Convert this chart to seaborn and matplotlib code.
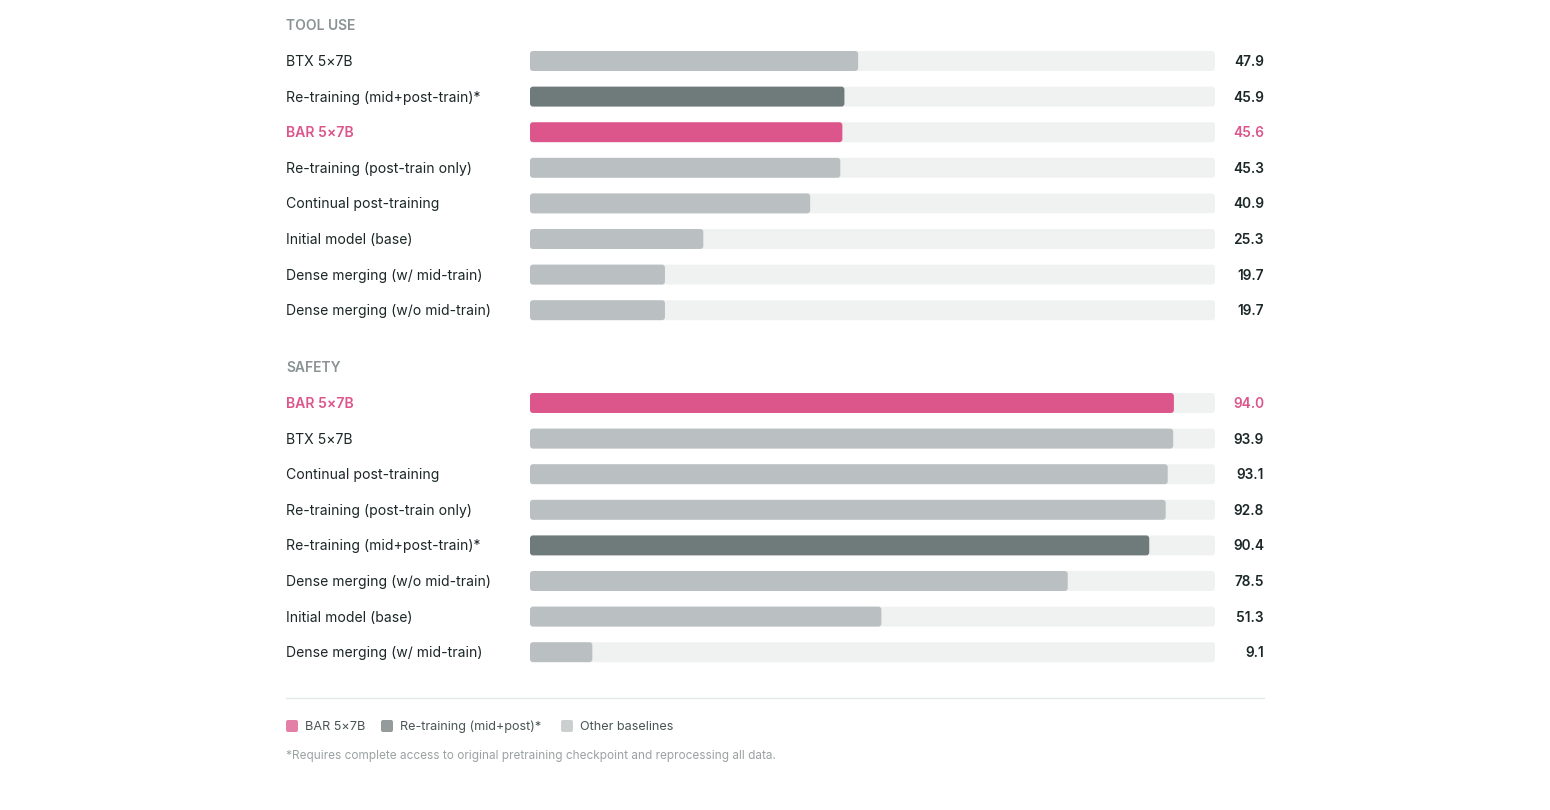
import numpy as np
import pandas as pd
import matplotlib
matplotlib.use("Agg")
import matplotlib.pyplot as plt
from matplotlib.patches import FancyBboxPatch
import seaborn as sns

# data
tool_labels = ["BTX 5×7B", "Re-training (mid+post-train)*", "BAR 5×7B",
               "Re-training (post-train only)", "Continual post-training",
               "Initial model (base)", "Dense merging (w/ mid-train)",
               "Dense merging (w/o mid-train)"]
tool_values = [47.9, 45.9, 45.6, 45.3, 40.9, 25.3, 19.7, 19.7]

safety_labels = ["BAR 5×7B", "BTX 5×7B", "Continual post-training",
                 "Re-training (post-train only)", "Re-training (mid+post-train)*",
                 "Dense merging (w/o mid-train)", "Initial model (base)",
                 "Dense merging (w/ mid-train)"]
safety_values = [94.0, 93.9, 93.1, 92.8, 90.4, 78.5, 51.3, 9.1]

legend_labels = ["BAR 5×7B", "Re-training (mid+post)*", "Other baselines"]
footnote = "*Requires complete access to original pretraining checkpoint and reprocessing all data."

PINK = "#dc558b"
DARK = "#6f7a7a"
LIGHT = "#bac0c1"
TRACK = "#f0f2f1"
TEXT = "#1c2727"
HEAD = "#8a9393"

sns.set_theme(style="white")
plt.rcParams["font.family"] = ["Inter", "DejaVu Sans"]

W, H = 1550, 810
ROW = 35.6
fig = plt.figure(figsize=(W / 100, H / 100), dpi=100)


def colour_for(label):
    if label.startswith("BAR"):
        return PINK
    if label.startswith("Re-training (mid"):
        return DARK
    return LIGHT


def round_bars(ax):
    # swap the square bars for rounded ones (about 3px radius)
    xpp = 100 / 685
    ypp = 1 / ROW
    for p in list(ax.patches):
        x, y = p.get_x(), p.get_y()
        w, h = p.get_width(), p.get_height()
        if w <= 0:
            continue
        fb = FancyBboxPatch((x, y), w, h,
                            boxstyle=f"round,pad=0,rounding_size={3 * xpp}",
                            mutation_aspect=ypp / xpp,
                            facecolor=p.get_facecolor(), edgecolor="none",
                            zorder=p.get_zorder())
        p.remove()
        ax.add_patch(fb)


def section(top_px, title, labels, values):
    n = len(labels)
    y0 = top_px - ROW / 2
    ax = fig.add_axes([530 / W, 1 - (y0 + n * ROW) / H, 685 / W, n * ROW / H])
    df = pd.DataFrame({"label": labels, "value": values, "track": [100] * n})
    sns.barplot(data=df, x="track", y="label", color=TRACK, width=0.56,
                ax=ax, saturation=1, linewidth=0)
    pal = {l: colour_for(l) for l in labels}
    sns.barplot(data=df, x="value", y="label", hue="label", palette=pal,
                width=0.56, ax=ax, saturation=1, legend=False, linewidth=0)
    round_bars(ax)
    ax.set_xlim(0, 100)
    ax.set_ylim(n - 0.5, -0.5)
    ax.axis("off")
    for i, (l, v) in enumerate(zip(labels, values)):
        hl = l.startswith("BAR")
        ax.text(-0.356, i + 0.03, l, transform=ax.get_yaxis_transform(),
                ha="left", va="center", fontsize=10.1,
                color=PINK if hl else TEXT,
                fontweight="semibold" if hl else "normal")
        ax.text(1.0715, i + 0.03, f"{v:.1f}", transform=ax.get_yaxis_transform(),
                ha="right", va="center", fontsize=9.8,
                color=PINK if hl else TEXT, fontweight="semibold")
    fig.text(286 / W, 1 - (top_px - 34.5) / H, title, ha="left", va="center",
             fontsize=10, color=HEAD, fontweight="semibold")
    return ax


section(61, "TOOL USE", tool_labels, tool_values)
section(403, "SAFETY", safety_labels, safety_values)

# separator
fig.add_artist(plt.Line2D([286 / W, 1264 / W], [1 - 698 / H] * 2,
                          color="#e4e7e7", lw=1))

# legend
sw_x = [286, 381, 561]
sw_c = [PINK, DARK, LIGHT]
for x, c, l in zip(sw_x, sw_c, legend_labels):
    fig.patches.append(FancyBboxPatch((x / W, 1 - 732 / H), 12 / W, 12 / H,
                                      boxstyle=f"round,pad=0,rounding_size={2 / W}",
                                      mutation_aspect=W / H,
                                      transform=fig.transFigure, facecolor=c,
                                      edgecolor="none", alpha=0.75))
    fig.text((x + 19) / W, 1 - 726.5 / H, l, ha="left", va="center",
             fontsize=9.1, color="#4a5555")

fig.text(286 / W, 1 - 756.5 / H, footnote, ha="left", va="center",
         fontsize=8.5, color="#9aa2a2")

fig.savefig("out.png", dpi=100, facecolor="white")
